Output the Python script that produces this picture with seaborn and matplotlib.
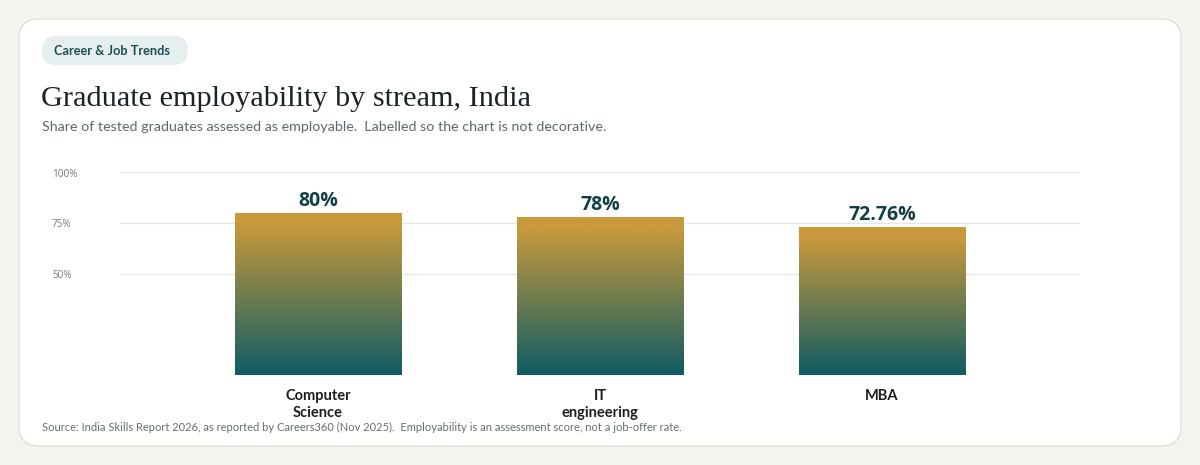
import numpy as np
import pandas as pd
import matplotlib
matplotlib.use("Agg")
import matplotlib.pyplot as plt
import seaborn as sns
from matplotlib.patches import FancyBboxPatch
from matplotlib.colors import LinearSegmentedColormap

# Data
streams = ['Computer\nScience', 'IT\nengineering', 'MBA']
employability = [80, 78, 72.76]
value_labels = ['80%', '78%', '72.76%']
y_ticks = [50, 75, 100]
y_tick_labels = ['50%', '75%', '100%']

df = pd.DataFrame({'Stream': streams, 'Employability': employability})

W, H = 1200, 465
BG = '#F5F3EF'
TEAL = '#0F5C63'
GOLD = '#C99A3C'

sns.set_theme(style='white')
plt.rcParams['font.family'] = ['Lato', 'DejaVu Sans']

fig = plt.figure(figsize=(W / 100, H / 100), dpi=100)
fig.patch.set_facecolor(BG)


def fx(x):
    return x / W


def fy(y):
    return 1 - y / H


# card
card = FancyBboxPatch((fx(19), fy(446)), fx(1162), (446 - 19) / H,
                      boxstyle='round,pad=0,rounding_size=0.0167',
                      transform=fig.transFigure, facecolor='white',
                      edgecolor='#E4E1DB', linewidth=1.0,
                      mutation_aspect=W / H, zorder=-3)
fig.patches.append(card)

# badge
badge = FancyBboxPatch((fx(42), fy(65)), fx(146), 29 / H,
                       boxstyle='round,pad=0,rounding_size=0.0117',
                       transform=fig.transFigure, facecolor='#E5EFEF',
                       edgecolor='none', mutation_aspect=W / H, zorder=-2)
fig.patches.append(badge)
fig.text(fx(54), fy(51), 'Career & Job Trends', fontsize=9.2, fontweight='bold',
         color='#1D4F53', va='center', ha='left')

# title + subtitle
fig.text(fx(41), fy(99), 'Graduate employability by stream, India',
         family=['Liberation Serif', 'DejaVu Serif'], fontsize=21.8, color='#1B2326',
         va='center', ha='left')
fig.text(fx(42), fy(127), 'Share of tested graduates assessed as employable.  '
         'Labelled so the chart is not decorative.',
         fontsize=10.3, color='#5E686B', va='center', ha='left')

# axes
ax = fig.add_axes([fx(120), fy(375), fx(960), (375 - 172) / H])
ax.set_facecolor('none')
sns.barplot(data=df, x='Stream', y='Employability', ax=ax, width=0.589,
            color=TEAL, saturation=1, edgecolor='none')
ax.set_ylim(0, 100)
ax.set_xlim(1 - 480 / 282, 1 + 480 / 282)
ax.set_xlabel('')
ax.set_ylabel('')
for s in ax.spines.values():
    s.set_visible(False)
ax.set_yticks(y_ticks)
ax.set_yticklabels([])
for t in y_ticks:
    ax.axhline(t, color='#E6E6E6', linewidth=1, zorder=0)
for t, lab in zip(y_ticks, y_tick_labels):
    fig.text(fx(52), fy(377 - t * 2.03), lab, family=['Open Sans', 'DejaVu Sans'],
             fontsize=7.2, color='#7A7A7A', va='center', ha='left')
ax.tick_params(axis='both', length=0)
ax.set_xticks(range(len(streams)))
ax.set_xticklabels(streams, fontsize=10.5, fontweight='bold', color='#1E1E1E',
                   linespacing=1.25, va='top')
ax.tick_params(axis='x', pad=10)

# gradient fill for bars
cmap = LinearSegmentedColormap.from_list('g', [(0, TEAL), (0.93, GOLD), (1, GOLD)])
grad = np.linspace(1, 0, 256).reshape(-1, 1)
for patch, lab in zip(ax.patches, value_labels):
    x0, w, h = patch.get_x(), patch.get_width(), patch.get_height()
    patch.set_facecolor('none')
    im = ax.imshow(grad, extent=[x0, x0 + w, 0, h], aspect='auto', cmap=cmap,
                   zorder=2, interpolation='bicubic')
    im.set_clip_path(patch)
    ax.annotate(lab, (x0 + w / 2, h), xytext=(0, 1.5), textcoords='offset points',
                ha='center', va='bottom', fontsize=14, fontweight='bold',
                family=['Open Sans', 'DejaVu Sans'], color='#123F45')
ax.set_xlim(1 - 480 / 282, 1 + 480 / 282)
ax.set_ylim(0, 100)

# source
fig.text(fx(42), fy(427), 'Source: India Skills Report 2026, as reported by Careers360 '
         '(Nov 2025).  Employability is an assessment score, not a job-offer rate.',
         fontsize=8.05, color='#666E70', va='center', ha='left')

fig.savefig('out.png', dpi=100, facecolor=BG)
